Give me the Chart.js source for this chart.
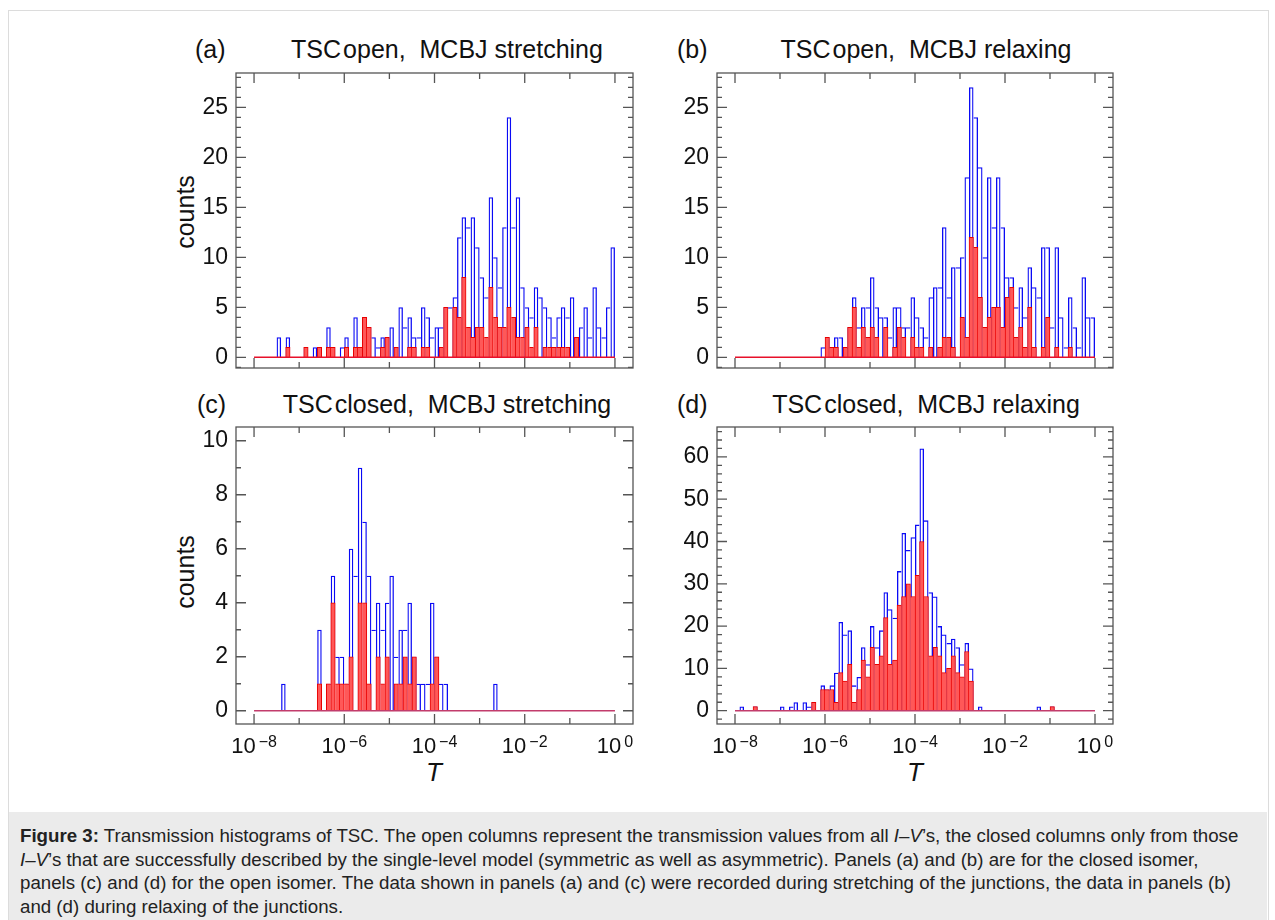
<!DOCTYPE html>
<html>
<head>
<meta charset="utf-8">
<script src="https://cdn.jsdelivr.net/npm/chart.js@4.4.1/dist/chart.umd.min.js"></script>
<style>
  body { margin: 0; width: 1275px; height: 920px; background: #fff; position: relative; overflow: hidden;
         font-family: "Liberation Sans", Arial, sans-serif; color: #111; }
  .fig { position: absolute; left: 8px; top: 10px; width: 1259px; height: 915px; border: 1px solid #dcdcdc; }
  canvas { position: absolute; }
  .tag { position: absolute; font-size: 25px; line-height: 25px; white-space: pre; }
  .ttl { position: absolute; width: 600px; text-align: center; font-size: 25px; line-height: 25px; white-space: pre; }
  .ylab { position: absolute; font-size: 25px; line-height: 25px; white-space: pre; transform: translate(-50%, -50%) rotate(-90deg); }
  .xlab { position: absolute; font-size: 26px; line-height: 26px; font-style: italic; transform: translate(-50%, -50%); }
  .caption { position: absolute; left: 9px; top: 812px; width: 1258px; height: 108px; background: #ebebeb;
             box-sizing: border-box; padding: 12px 0 0 11px; font-size: 18.7px; line-height: 23.5px; color: #222; white-space: nowrap; }
</style>
</head>
<body>
<div class="fig"></div>

<div class="tag" style="left:195px; top:37px">(a)</div>
<div class="ttl" style="left:147px; top:37px">TSC<span style="margin-left:2px">open,&nbsp; MCBJ stretching</span></div>
<div class="tag" style="left:677px; top:37px">(b)</div>
<div class="ttl" style="left:626px; top:37px">TSC<span style="margin-left:2px">open,&nbsp; MCBJ relaxing</span></div>
<div class="tag" style="left:197px; top:392px">(c)</div>
<div class="ttl" style="left:147px; top:392px">TSC<span style="margin-left:2px">closed,&nbsp; MCBJ stretching</span></div>
<div class="tag" style="left:677px; top:392px">(d)</div>
<div class="ttl" style="left:626px; top:392px">TSC<span style="margin-left:2px">closed,&nbsp; MCBJ relaxing</span></div>

<div class="ylab" style="left:185px; top:212px">counts</div>
<div class="ylab" style="left:185px; top:572px">counts</div>
<div class="xlab" style="left:434px; top:772px">T</div>
<div class="xlab" style="left:915px; top:772px">T</div>

<div class="caption"><b>Figure 3:</b> Transmission histograms of TSC. The open columns represent the transmission values from all <i>I</i>–<i>V</i>’s, the closed columns only from those<br><i>I</i>–<i>V</i>’s that are successfully described by the single-level model (symmetric as well as asymmetric). Panels (a) and (b) are for the closed isomer,<br>panels (c) and (d) for the open isomer. The data shown in panels (a) and (c) were recorded during stretching of the junctions, the data in panels (b)<br>and (d) during relaxing of the junctions.</div>

<script>
  // histogram bins: 10 per decade, T from 1e-8 to 1e0 (80 bins)
  const LOG_MIN = -8;
  const LOG_MAX = 0;
  const BINS_PER_DECADE = 10;
  const xLabelExps = [-8, -6, -4, -2, 0];

  // (a) stretching, open columns = all I-V's, closed = single-level fits
  const openA = [
    0, 0, 0, 0, 0, 2, 0, 2, 0, 0,
    0, 1, 0, 1, 1, 0, 3, 1, 0, 1,
    2, 0, 4, 1, 4, 3, 2, 1, 2, 2,
    3, 1, 5, 3, 4, 2, 2, 5, 4, 2,
    3, 3, 5, 5, 6, 12, 14, 13, 14, 11,
    8, 6, 16, 10, 7, 13, 24, 13, 16, 7,
    5, 4, 7, 6, 5, 4, 2, 4, 5, 4,
    6, 2, 3, 5, 2, 7, 3, 2, 5, 11
  ];
  const closedA = [
    0, 0, 0, 0, 0, 0, 0, 1, 0, 0,
    0, 1, 0, 0, 1, 0, 1, 1, 0, 0,
    1, 0, 1, 1, 4, 3, 0, 0, 1, 2,
    0, 1, 0, 0, 1, 1, 0, 1, 1, 0,
    0, 1, 5, 0, 5, 4, 8, 3, 2, 3,
    3, 2, 7, 4, 3, 3, 5, 4, 2, 2,
    3, 1, 3, 0, 1, 1, 1, 1, 1, 1,
    0, 2, 0, 0, 0, 0, 0, 0, 0, 0
  ];

  // (b) relaxing
  const openB = [
    0, 0, 0, 0, 0, 0, 0, 0, 0, 0,
    0, 0, 0, 0, 0, 0, 0, 0, 0, 1,
    2, 1, 2, 2, 1, 3, 6, 3, 5, 5,
    8, 5, 4, 4, 2, 5, 5, 3, 3, 6,
    4, 3, 2, 6, 7, 7, 13, 6, 9, 9,
    10, 18, 27, 24, 19, 10, 18, 13, 18, 13,
    8, 8, 5, 7, 4, 9, 7, 6, 11, 11,
    3, 11, 4, 1, 6, 3, 1, 8, 4, 4
  ];
  const closedB = [
    0, 0, 0, 0, 0, 0, 0, 0, 0, 0,
    0, 0, 0, 0, 0, 0, 0, 0, 0, 0,
    2, 1, 1, 0, 1, 3, 5, 1, 3, 2,
    3, 2, 0, 3, 0, 1, 3, 2, 0, 2,
    1, 1, 0, 1, 0, 1, 2, 2, 1, 0,
    4, 2, 12, 11, 6, 3, 4, 5, 5, 3,
    6, 7, 2, 3, 1, 5, 1, 0, 1, 4,
    0, 1, 0, 0, 1, 0, 0, 0, 0, 0
  ];

  // (c) stretching
  const openC = [
    0, 0, 0, 0, 0, 0, 1, 0, 0, 0,
    0, 0, 0, 0, 3, 0, 1, 5, 2, 2,
    1, 6, 5, 9, 7, 5, 3, 4, 3, 4,
    5, 2, 3, 3, 4, 2, 1, 1, 1, 4,
    2, 1, 1, 0, 0, 0, 0, 0, 0, 0,
    0, 0, 0, 1, 0, 0, 0, 0, 0, 0,
    0, 0, 0, 0, 0, 0, 0, 0, 0, 0,
    0, 0, 0, 0, 0, 0, 0, 0, 0, 0
  ];
  const closedC = [
    0, 0, 0, 0, 0, 0, 0, 0, 0, 0,
    0, 0, 0, 0, 1, 0, 1, 4, 1, 1,
    1, 2, 0, 4, 4, 1, 0, 2, 1, 2,
    0, 1, 1, 2, 1, 2, 0, 0, 0, 1,
    2, 0, 0, 0, 0, 0, 0, 0, 0, 0,
    0, 0, 0, 0, 0, 0, 0, 0, 0, 0,
    0, 0, 0, 0, 0, 0, 0, 0, 0, 0,
    0, 0, 0, 0, 0, 0, 0, 0, 0, 0
  ];

  // (d) relaxing
  const openD = [
    0, 1, 0, 0, 1, 0, 0, 0, 0, 0,
    1, 0, 1, 2, 0, 2, 1, 2, 0, 6,
    5, 6, 9, 21, 18, 19, 6, 8, 15, 11,
    20, 15, 19, 28, 24, 22, 33, 42, 38, 41,
    44, 62, 45, 28, 27, 20, 18, 16, 17, 15,
    11, 16, 10, 0, 1, 0, 0, 0, 0, 0,
    0, 0, 0, 0, 0, 0, 0, 1, 0, 0,
    1, 0, 0, 0, 0, 0, 0, 0, 0, 0
  ];
  const closedD = [
    0, 0, 0, 0, 1, 0, 0, 0, 0, 0,
    0, 0, 0, 0, 0, 0, 0, 2, 0, 5,
    5, 5, 2, 9, 7, 11, 2, 5, 12, 8,
    15, 11, 13, 22, 11, 12, 25, 27, 30, 27,
    32, 40, 27, 13, 15, 13, 9, 10, 13, 9,
    8, 14, 7, 0, 0, 0, 0, 0, 0, 0,
    0, 0, 0, 0, 0, 0, 0, 0, 0, 0,
    1, 0, 0, 0, 0, 0, 0, 0, 0, 0
  ];

  const BLUE = '#0a0af5';
  const RED_EDGE = '#e80000';
  const RED_FILL = '#ff5858';
  const FONT = '"Liberation Sans", Arial, sans-serif';
  Chart.defaults.font.family = FONT;

  function binPoints(vals) {
    return vals.map((v, k) => ({x: 10 ** (LOG_MIN + (k + 0.5) / BINS_PER_DECADE), y: v}));
  }

  // outline each column once: shared edges only drawn by the taller neighbour
  function edgeWidths(w) {
    return function(ctx) {
      const d = ctx.dataset.data, i = ctx.dataIndex;
      const cur = d[i].y;
      const prev = i > 0 ? d[i - 1].y : 0;
      const next = i < d.length - 1 ? d[i + 1].y : 0;
      return {top: w, bottom: 0, left: prev < cur ? w : 0, right: next <= cur ? w : 0};
    };
  }

  const frameTicks = {
    id: 'frameTicks',
    afterDatasetsDraw(chart, args, o) {
      const {ctx, chartArea: a, scales: {x, y}} = chart;
      ctx.save();
      ctx.strokeStyle = '#555';
      ctx.lineWidth = 1.3;
      ctx.strokeRect(a.left, a.top, a.right - a.left, a.bottom - a.top);
      ctx.beginPath();
      for (let e = LOG_MIN; e <= LOG_MAX; e++) {
        const px = x.getPixelForValue(10 ** e);
        const len = e % 2 === 0 ? 10 : 6;
        ctx.moveTo(px, a.bottom); ctx.lineTo(px, a.bottom - len);
        ctx.moveTo(px, a.top); ctx.lineTo(px, a.top + len);
      }
      for (let v = Math.ceil(y.min / o.minor) * o.minor; v <= y.max + 1e-9; v += o.minor) {
        const py = y.getPixelForValue(v);
        const r = v / o.major;
        const len = Math.abs(r - Math.round(r)) < 1e-6 ? 10 : 5;
        ctx.moveTo(a.left, py); ctx.lineTo(a.left + len, py);
        ctx.moveTo(a.right, py); ctx.lineTo(a.right - len, py);
      }
      ctx.stroke();

      if (o.labels) {
        ctx.fillStyle = '#111';
        ctx.textAlign = 'left';
        ctx.textBaseline = 'alphabetic';
        xLabelExps.forEach(e => {
          const px = x.getPixelForValue(10 ** e);
          const sup = e < 0 ? '\u2212' + (-e) : String(e);
          ctx.font = '22px ' + FONT;
          const wb = ctx.measureText('10').width;
          ctx.font = '16px ' + FONT;
          const ws = ctx.measureText(sup).width;
          const x0 = px - (wb + 3 + ws) / 2;
          ctx.font = '22px ' + FONT;
          ctx.fillText('10', x0, a.bottom + 29);
          ctx.font = '16px ' + FONT;
          ctx.fillText(sup, x0 + wb + 3, a.bottom + 23);
        });
      }
      ctx.restore();
    }
  };

  const panels = [
    {open: openA, closed: closedA, frame: [236, 73, 633, 368], yMin: -1.07, yMax: 28.43, major: 5, minor: 1, base: '#e8102a', labels: false},
    {open: openB, closed: closedB, frame: [716.7, 73, 1113, 368], yMin: -1.07, yMax: 28.43, major: 5, minor: 1, base: '#e8102a', labels: false},
    {open: openC, closed: closedC, frame: [236, 427, 633, 724], yMin: -0.49, yMax: 10.51, major: 2, minor: 1, base: '#c23c6c', labels: true},
    {open: openD, closed: closedD, frame: [716.7, 427, 1113, 724], yMin: -3.14, yMax: 67.07, major: 10, minor: 2, base: '#c23c6c', labels: true}
  ];

  function makePanel(p) {
    const padL = 110, padT = 6, padR = 6, padB = 75;
    const [L, T, R, B] = p.frame;
    const cv = document.createElement('canvas');
    cv.width = Math.round(R - L + padL + padR);
    cv.height = Math.round(B - T + padT + padB);
    cv.style.left = (L - padL) + 'px';
    cv.style.top = (T - padT) + 'px';
    document.body.appendChild(cv);

    new Chart(cv, {
      type: 'bar',
      data: {
        datasets: [
          {
            type: 'line', data: [{x: 10 ** LOG_MIN, y: 0}, {x: 10 ** LOG_MAX, y: 0}],
            borderColor: p.base, borderWidth: 1.6, pointRadius: 0, order: 0
          },
          {
            label: 'closed', data: binPoints(p.closed), order: 1,
            backgroundColor: RED_FILL, borderColor: RED_EDGE, borderWidth: edgeWidths(1), inflateAmount: 0.3
          },
          {
            label: 'all', data: binPoints(p.open), order: 2,
            backgroundColor: 'rgba(0,0,0,0)', borderColor: BLUE, borderWidth: edgeWidths(1.3), inflateAmount: 0
          }
        ]
      },
      options: {
        responsive: false,
        animation: false,
        layout: {padding: {left: 0, top: padT, right: padR, bottom: 0}},
        datasets: {bar: {grouped: false, barPercentage: 1, categoryPercentage: 1, borderSkipped: false}},
        plugins: {
          legend: {display: false},
          tooltip: {enabled: false},
          frameTicks: {major: p.major, minor: p.minor, labels: p.labels}
        },
        scales: {
          x: {
            type: 'logarithmic',
            min: 10 ** (LOG_MIN - 0.4), max: 10 ** (LOG_MAX + 0.4),
            grid: {display: false, drawTicks: false}, border: {display: false},
            ticks: {display: false},
            // decades only, so the bar width comes from the bin spacing
            afterBuildTicks: s => {
              const t = [];
              for (let e = LOG_MIN; e <= LOG_MAX; e++) t.push({value: 10 ** e});
              s.ticks = t;
            },
            afterFit: s => { s.height = padB; s.paddingLeft = 0; s.paddingRight = 0; }
          },
          y: {
            min: p.yMin, max: p.yMax,
            grid: {display: false, drawTicks: false}, border: {display: false},
            ticks: {stepSize: p.major, includeBounds: false, padding: 8, color: '#111', font: {size: 23}},
            afterFit: s => { s.width = padL; s.paddingTop = 0; s.paddingBottom = 0; }
          }
        }
      },
      plugins: [frameTicks]
    });
  }

  panels.forEach(makePanel);
</script>
</body>
</html>
